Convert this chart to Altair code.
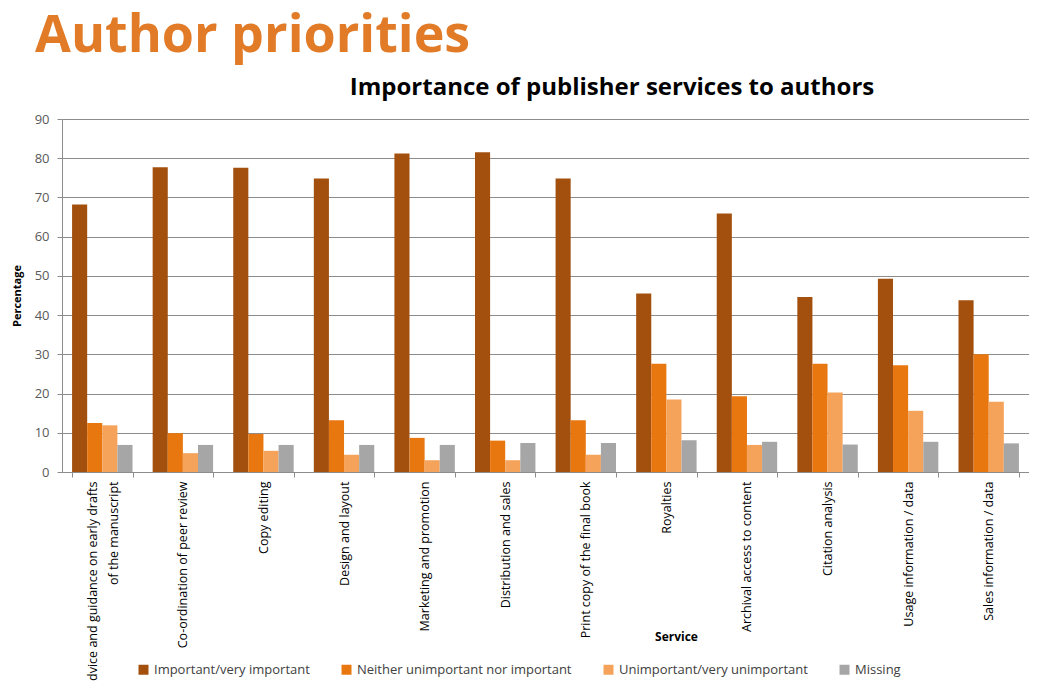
import altair as alt
import pandas as pd

categories = [
    "Advice and guidance on early drafts of the manuscript",
    "Co-ordination of peer review",
    "Copy editing",
    "Design and layout",
    "Marketing and promotion",
    "Distribution and sales",
    "Print copy of the final book",
    "Royalties",
    "Archival access to content",
    "Citation analysis",
    "Usage information / data",
    "Sales information / data",
]
series = [
    "Important/very important",
    "Neither unimportant nor important",
    "Unimportant/very unimportant",
    "Missing",
]
important = [68.2, 77.7, 77.6, 74.8, 81.2, 81.5, 74.8, 45.5, 65.9, 44.6, 49.3, 43.8]
neither = [12.5, 9.9, 9.7, 13.2, 8.7, 8.0, 13.2, 27.6, 19.3, 27.6, 27.2, 30.0]
unimportant = [11.9, 4.8, 5.4, 4.4, 3.0, 3.0, 4.4, 18.5, 6.9, 20.3, 15.6, 17.9]
missing = [6.9, 6.9, 6.9, 6.9, 6.9, 7.4, 7.4, 8.1, 7.7, 7.0, 7.7, 7.3]
colors = ["#A3500E", "#E8770F", "#F5A35A", "#A6A6A6"]

rows = []
for vals, s in zip([important, neither, unimportant, missing], series):
    for c, v in zip(categories, vals):
        rows.append({"Service": c, "Response": s, "Percentage": v})
df = pd.DataFrame(rows)

FONT = "Open Sans"

first = categories[0]
label_expr = (
    f"datum.value == '{first}' ? "
    "['Advice and guidance on early drafts', 'of the manuscript'] : datum.value"
)

bars = alt.Chart(df).mark_bar().encode(
    x=alt.X(
        "Service:N",
        sort=categories,
        scale=alt.Scale(paddingInner=0.25, paddingOuter=0.125),
        axis=alt.Axis(
            title="Service",
            titleFont=FONT,
            titleFontSize=12,
            titleFontWeight="bold",
            titleColor="#000000",
            titleX=614,
            titleY=164,
            titleBaseline="middle",
            labelAngle=-90,
            labelAlign="right",
            labelBaseline="middle",
            labelFont=FONT,
            labelFontSize=12.5,
            labelColor="#000000",
            labelPadding=4,
            labelLimit=400,
            labelLineHeight=21,
            labelOffset={"condition": {"test": f"datum.value == '{first}'", "value": -10}, "value": 0},
            labelExpr=label_expr,
            tickBand="extent",
            tickSize=5,
            tickColor="#8c8c8c",
            domainColor="#8c8c8c",
            grid=False,
        ),
    ),
    xOffset=alt.XOffset("Response:N", sort=series),
    y=alt.Y(
        "Percentage:Q",
        scale=alt.Scale(domain=[0, 90], nice=False),
        axis=alt.Axis(
            title="Percentage",
            titleFont=FONT,
            titleFontSize=11,
            titleFontWeight="bold",
            titleColor="#000000",
            titlePadding=12,
            values=list(range(0, 91, 10)),
            labelFont=FONT,
            labelFontSize=13,
            labelColor="#595959",
            labelPadding=8,
            tickSize=5,
            tickColor="#8c8c8c",
            domainColor="#8c8c8c",
            gridColor="#8c8c8c",
            gridWidth=1,
        ),
    ),
    color=alt.Color(
        "Response:N",
        sort=series,
        scale=alt.Scale(domain=series, range=colors),
        legend=alt.Legend(
            title=None,
            orient="none",
            legendX=75,
            legendY=544,
            direction="horizontal",
            columns=4,
            symbolType="square",
            symbolSize=100,
            symbolStrokeWidth=0,
            labelFont=FONT,
            labelFontSize=13,
            labelColor="#404040",
            labelLimit=400,
            columnPadding=30,
            labelOffset=4,
        ),
    ),
)

subtitle_df = pd.DataFrame({"t": ["Importance of publisher services to authors"]})
subtitle = alt.Chart(subtitle_df).mark_text(
    font=FONT, fontSize=24, fontWeight="bold", color="#000000",
    align="center", baseline="middle",
).encode(text="t:N", x=alt.value(550), y=alt.value(-31))

chart = alt.layer(bars, subtitle).properties(
    width=967,
    height=353,
    autosize=alt.AutoSizeParams(type="none"),
    padding={"left": 54, "top": 111, "right": 0, "bottom": 209},
    title=alt.TitleParams(
        text="Author priorities",
        anchor="start",
        frame="group",
        dx=-27,
        font=FONT,
        fontSize=52,
        fontWeight="bold",
        color="#E27B27",
        offset=13,
    ),
).configure_view(stroke=None).configure(background="#ffffff")

chart.save("out.html", embed_options={"renderer": "svg", "actions": False})
